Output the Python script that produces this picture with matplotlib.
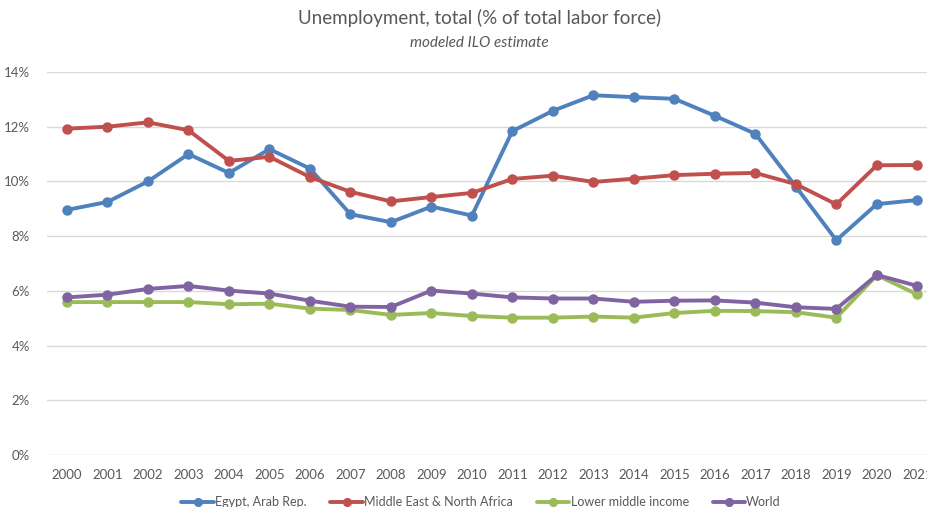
import matplotlib
matplotlib.use("Agg")
import matplotlib.pyplot as plt
from matplotlib.ticker import PercentFormatter

plt.rcParams["font.family"] = ["Lato", "DejaVu Sans"]

years = [str(y) for y in range(2000, 2022)]

egypt = [8.96, 9.25, 10.00, 11.00, 10.31, 11.18, 10.47, 8.80, 8.51, 9.08, 8.75,
         11.84, 12.58, 13.15, 13.08, 13.02, 12.40, 11.74, 9.81, 7.85, 9.17, 9.32]
mena = [11.93, 12.00, 12.16, 11.87, 10.75, 10.90, 10.16, 9.62, 9.27, 9.43, 9.58,
        10.09, 10.21, 9.98, 10.10, 10.23, 10.28, 10.31, 9.90, 9.16, 10.59, 10.60]
lower_middle = [5.59, 5.59, 5.59, 5.59, 5.51, 5.53, 5.35, 5.30, 5.12, 5.19, 5.08,
                5.02, 5.02, 5.06, 5.02, 5.19, 5.27, 5.26, 5.22, 5.02, 6.57, 5.87]
world = [5.76, 5.86, 6.07, 6.18, 6.01, 5.90, 5.64, 5.42, 5.41, 6.01, 5.90,
         5.76, 5.72, 5.72, 5.60, 5.64, 5.65, 5.57, 5.40, 5.34, 6.58, 6.18]

series = [
    ("Egypt, Arab Rep.", egypt, "#4F81BD"),
    ("Middle East & North Africa", mena, "#C0504D"),
    ("Lower middle income", lower_middle, "#9BBB59"),
    ("World", world, "#8064A2"),
]

grey = "#595959"

fig = plt.figure(figsize=(9.27, 5.07), dpi=100)
ax = fig.add_axes([0.0504, 0.1026, 0.961, 0.7554])

x = list(range(len(years)))
for name, vals, col in series:
    ax.plot(x, vals, color=col, lw=2.8, marker="o", markersize=6.5,
            label=name, solid_capstyle="round")

ax.set_xlim(-0.5, len(years) - 0.5)
ax.set_ylim(0, 14)
ax.set_yticks(range(0, 15, 2))
ax.yaxis.set_major_formatter(PercentFormatter(decimals=0))
ax.set_xticks(x)
ax.set_xticklabels(years)
ax.grid(axis="y", color="#D9D9D9", lw=1)
ax.set_axisbelow(True)
for s in ax.spines.values():
    s.set_visible(False)
ax.tick_params(length=0, labelsize=9.5, colors=grey)
ax.tick_params(axis="x", pad=10)
ax.tick_params(axis="y", pad=12)

fig.text(0.517, 1 - 18 / 507, "Unemployment, total (% of total labor force)",
         ha="center", va="center", fontsize=13.5, color=grey)
fig.text(0.517, 1 - 43 / 507, "modeled ILO estimate", ha="center", va="center",
         fontsize=11, color=grey, style="italic")

fig.legend(loc="center", bbox_to_anchor=(0.519, 0.01), ncol=4, frameon=False,
           fontsize=9, labelcolor=grey, handlelength=2.6, columnspacing=1.9,
           handletextpad=0.1, markerscale=0.85)

fig.savefig("out.png", dpi=100)
